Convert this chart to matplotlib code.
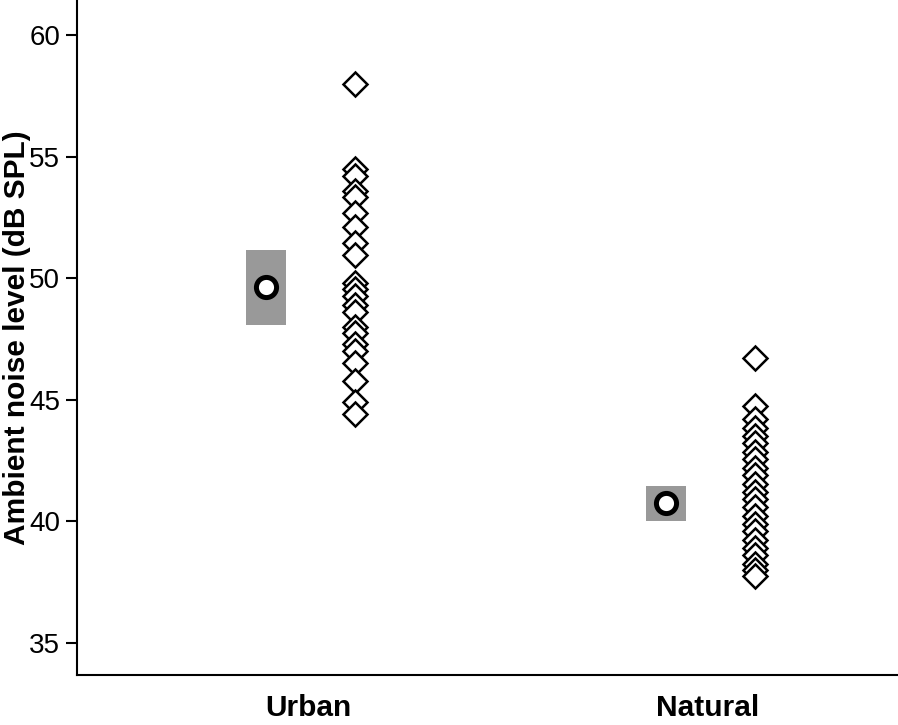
import matplotlib
matplotlib.use("Agg")
from matplotlib import pyplot as plt

plt.rcParams["font.family"] = ["Liberation Sans", "DejaVu Sans"]

groups = ["Urban", "Natural"]

# per-site ambient noise (dB SPL)
urban = [58.0, 54.5, 54.2, 53.6, 53.35, 52.7, 52.1, 51.45, 50.95, 49.8, 49.55,
         49.25, 48.9, 48.6, 48.0, 47.75, 47.3, 47.0, 46.5, 45.75, 44.9, 44.4]
natural = [46.7, 44.75, 44.2, 43.85, 43.5, 43.2, 42.85, 42.55, 42.2, 41.9, 41.55,
           41.2, 40.9, 40.6, 40.2, 39.9, 39.6, 39.25, 38.9, 38.6, 38.25, 38.0, 37.75]

# group means with shaded range
means = [49.64, 40.76]
lows = [48.08, 40.02]
highs = [51.16, 41.46]

fig = plt.figure(figsize=(8.98, 7.25), dpi=100)
ax = fig.add_axes([0.0857, 0.069, 0.9143, 0.931])

xpos = [1, 2]
off_mean = -0.105
off_pts = 0.117

for i, (x, vals) in enumerate(zip(xpos, [urban, natural])):
    ax.bar(x + off_mean, highs[i] - lows[i], bottom=lows[i], width=0.098,
           color="#999999", edgecolor="none", zorder=1)
    ax.plot([x + off_mean], [means[i]], "o", ms=14.5, mfc="white", mec="black",
            mew=3.6, zorder=3)
    ax.plot([x + off_pts] * len(vals), vals, "D", ms=12.5, mfc="white",
            mec="black", mew=1.8, linestyle="none", zorder=2)

ax.set_xlim(0.4225, 2.475)
ax.set_ylim(33.68, 61.44)
ax.set_yticks([35, 40, 45, 50, 55, 60])
ax.set_xticks(xpos)
ax.set_xticklabels(groups, fontsize=21.5, fontweight="bold")
ax.tick_params(axis="x", length=0, pad=14)
ax.tick_params(axis="y", labelsize=20, length=8, width=1.5, pad=4)
ax.set_ylabel("Ambient noise level (dB SPL)", fontsize=21.5, fontweight="bold")
ax.yaxis.set_label_coords(-0.056, 0.5)

for s in ["top", "right"]:
    ax.spines[s].set_visible(False)
for s in ["left", "bottom"]:
    ax.spines[s].set_linewidth(1.5)

fig.savefig("out.png", dpi=100)
